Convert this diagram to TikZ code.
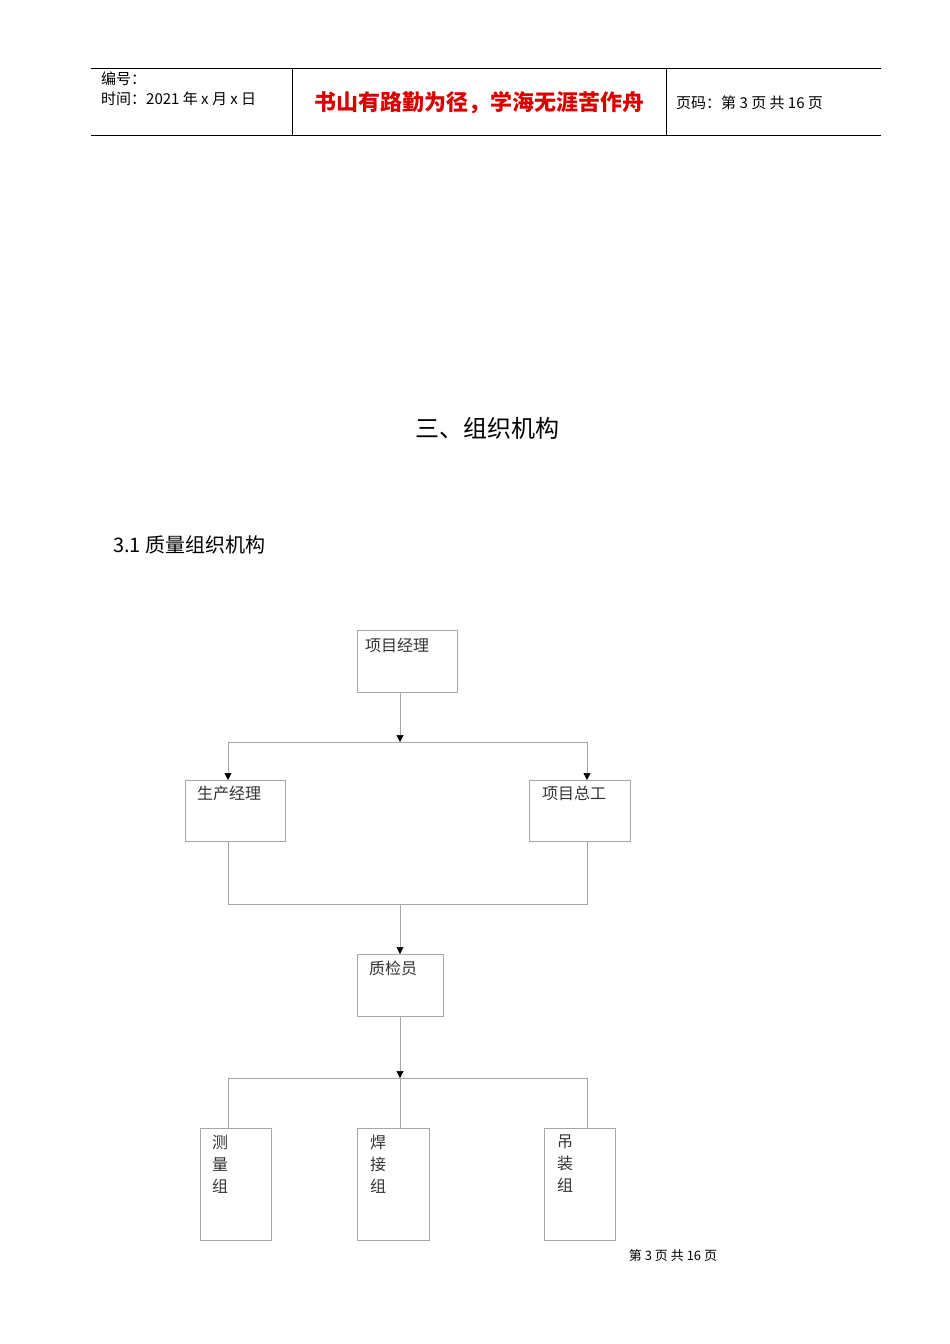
\documentclass[tikz,border=0pt]{standalone}
\usepackage{fontspec}
\setmainfont{Liberation Sans}
\newfontfamily\cjk{Noto Sans CJK SC}
\usetikzlibrary{arrows.meta}
\begin{document}
\begin{tikzpicture}[x=1pt,y=-1pt,
  box/.style={draw=gray!70,line width=0.6pt,minimum width=#1,anchor=north west,inner sep=0},
  lbl/.style={anchor=north west,inner sep=0,font=\cjk\fontsize{16}{22}\selectfont,text=black!80},
  conn/.style={draw=gray!70,line width=0.6pt},
  arr/.style={conn,-{Triangle[length=7pt,width=7pt,fill=black,color=black]}}]
\useasboundingbox (0,0) rectangle (950,1344);
% header
\draw[line width=0.6pt] (91,68) -- (881,68) (91,135) -- (881,135) (292,68) -- (292,135) (666,68) -- (666,135);
\node[anchor=west,inner sep=0,font=\cjk\fontsize{15}{17}\selectfont] (h1) at (101,79) {编号：};
\node[anchor=west,inner sep=0,font=\cjk\fontsize{15}{17}\selectfont] (h2) at (101,99) {时间：2021 年 x 月 x 日};
\node[inner sep=0,font=\cjk\bfseries\fontsize{22}{24}\selectfont,text=red!85!black] (h3) at (479,103) {书山有路勤为径，学海无涯苦作舟};
\node[anchor=west,inner sep=0,font=\cjk\fontsize{15}{17}\selectfont] (h4) at (676,103) {页码：第 3 页 共 16 页};
\node[inner sep=0,font=\cjk\fontsize{24}{26}\selectfont] (t1) at (487,428) {三、组织机构};
\node[anchor=west,inner sep=0,font=\cjk\fontsize{20}{22}\selectfont] (t2) at (113,545) {3.1 质量组织机构};
% boxes
\draw[box] (357,630) rectangle (457,692); \node[lbl] (b1) at (365,638) {项目经理};
\draw[box] (185,780) rectangle (285,841); \node[lbl] (b2) at (197,786) {生产经理};
\draw[box] (529,780) rectangle (630,841); \node[lbl] (b3) at (542,786) {项目总工};
\draw[box] (357,954) rectangle (443,1016); \node[lbl] (b4) at (369,961) {质检员};
\draw[box] (200,1128) rectangle (271,1240); \node[lbl,align=left] (b5) at (212,1135) {测\\量\\组};
\draw[box] (357,1128) rectangle (429,1240); \node[lbl,align=left] (b6) at (370,1135) {焊\\接\\组};
\draw[box] (544,1128) rectangle (615,1240); \node[lbl,align=left] (b7) at (557,1135) {吊\\装\\组};
% connectors
\draw[arr] (400,692) -- (400,742);
\draw[conn] (228,742) -- (587,742);
\draw[arr] (228,742) -- (228,780);
\draw[arr] (587,742) -- (587,780);
\draw[conn] (228,841) -- (228,904) -- (587,904) -- (587,841);
\draw[arr] (400,904) -- (400,954);
\draw[arr] (400,1016) -- (400,1078);
\draw[conn] (228,1128) -- (228,1078) -- (587,1078) -- (587,1128);
\draw[conn] (400,1078) -- (400,1128);
\node[inner sep=0,font=\cjk\fontsize{13}{15}\selectfont] (f) at (673,1256) {第 3 页 共 16 页};
\end{tikzpicture}
\end{document}
